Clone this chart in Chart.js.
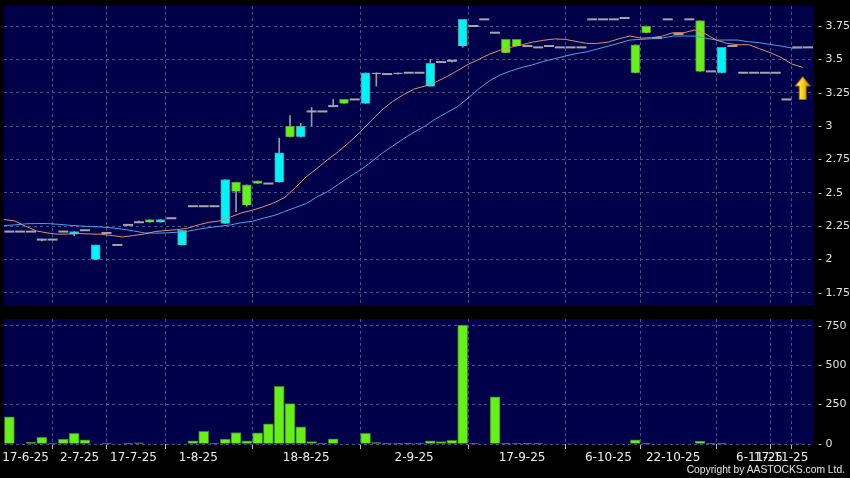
<!DOCTYPE html>
<html>
<head>
<meta charset="utf-8">
<script src="https://cdn.jsdelivr.net/npm/chart.js@4.4.1/dist/chart.umd.min.js"></script>
<style>
  html, body { margin: 0; padding: 0; background: #000; }
  #wrap { position: relative; width: 850px; height: 478px; background: #000; overflow: hidden; }
  #pricebox { position: absolute; left: 0; top: 0; width: 850px; height: 310px; }
  #volbox { position: absolute; left: 0; top: 310px; width: 850px; height: 168px; }
  #copy { position: absolute; right: 5px; top: 464px; font: 10.3px 'Liberation Sans', Arial, sans-serif; color: #e6e6e6; white-space: nowrap; }
</style>
</head>
<body>
<div id="wrap">
  <div id="pricebox"><canvas id="price" width="850" height="310"></canvas></div>
  <div id="volbox"><canvas id="vol" width="850" height="168"></canvas></div>
  <div id="copy">Copyright by AASTOCKS.com Ltd.</div>
</div>
<script>
// ---- data (one entry per bar, 75 bars) ----
const opens = [
  2.21, 2.21, 2.21, 2.15, 2.15, 2.21, 2.19, 2.22, 2.00, 2.20,
  2.11, 2.26, 2.28, 2.30, 2.28, 2.31, 2.11, 2.40, 2.40, 2.40,
  2.27, 2.58, 2.56, 2.59, 2.57, 2.58, 3.00, 2.92, 3.11, 3.11,
  3.15, 3.20, 3.20, 3.17, 3.40, 3.39, 3.39, 3.40, 3.40, 3.30,
  3.48, 3.49, 3.60, 3.75, 3.80, 3.70, 3.65, 3.65, 3.60, 3.59,
  3.60, 3.59, 3.59, 3.59, 3.80, 3.80, 3.80, 3.81, 3.61, 3.75,
  3.66, 3.80, 3.69, 3.80, 3.79, 3.41, 3.40, 3.60, 3.40, 3.40,
  3.40, 3.40, 3.20, 3.59, 3.59
];
const highs = [
  2.21, 2.21, 2.21, 2.15, 2.15, 2.21, 2.21, 2.22, 2.11, 2.20,
  2.11, 2.26, 2.29, 2.30, 2.30, 2.31, 2.22, 2.40, 2.40, 2.40,
  2.60, 2.58, 2.56, 2.59, 2.57, 2.91, 3.08, 3.02, 3.14, 3.11,
  3.20, 3.20, 3.20, 3.40, 3.40, 3.39, 3.40, 3.40, 3.40, 3.50,
  3.48, 3.49, 3.80, 3.75, 3.80, 3.70, 3.65, 3.65, 3.60, 3.59,
  3.60, 3.59, 3.59, 3.59, 3.80, 3.80, 3.80, 3.81, 3.61, 3.75,
  3.66, 3.80, 3.69, 3.80, 3.79, 3.41, 3.59, 3.60, 3.40, 3.40,
  3.40, 3.40, 3.20, 3.59, 3.59
];
const lows = [
  2.21, 2.21, 2.21, 2.14, 2.15, 2.21, 2.18, 2.22, 2.00, 2.20,
  2.11, 2.26, 2.28, 2.28, 2.28, 2.31, 2.11, 2.40, 2.40, 2.40,
  2.27, 2.36, 2.40, 2.57, 2.57, 2.58, 2.92, 2.92, 3.00, 3.11,
  3.15, 3.17, 3.20, 3.17, 3.30, 3.39, 3.39, 3.40, 3.40, 3.30,
  3.48, 3.48, 3.59, 3.75, 3.80, 3.70, 3.55, 3.60, 3.60, 3.59,
  3.60, 3.59, 3.59, 3.59, 3.80, 3.80, 3.80, 3.81, 3.40, 3.70,
  3.66, 3.80, 3.69, 3.80, 3.41, 3.41, 3.40, 3.60, 3.40, 3.40,
  3.40, 3.40, 3.20, 3.59, 3.59
];
const closes = [
  2.21, 2.21, 2.21, 2.15, 2.15, 2.21, 2.21, 2.22, 2.11, 2.20,
  2.11, 2.26, 2.28, 2.28, 2.30, 2.31, 2.22, 2.40, 2.40, 2.40,
  2.60, 2.51, 2.41, 2.57, 2.57, 2.80, 2.92, 3.00, 3.11, 3.11,
  3.15, 3.17, 3.20, 3.40, 3.39, 3.39, 3.40, 3.40, 3.40, 3.47,
  3.48, 3.49, 3.80, 3.75, 3.80, 3.70, 3.55, 3.60, 3.60, 3.59,
  3.60, 3.59, 3.59, 3.59, 3.80, 3.80, 3.80, 3.81, 3.40, 3.70,
  3.66, 3.80, 3.69, 3.80, 3.41, 3.41, 3.59, 3.60, 3.40, 3.40,
  3.40, 3.40, 3.20, 3.59, 3.59
];
const volumes = [
  173, 0, 10, 43, 2, 31, 67, 27, 0, 1,
  0, 1, 8, 0, 0, 0, 0, 20, 80, 2,
  31, 73, 20, 71, 128, 366, 256, 109, 16, 2,
  33, 0, 0, 67, 9, 1, 2, 2, 1, 20,
  16, 23, 755, 5, 0, 300, 5, 5, 2, 4,
  0, 0, 3, 0, 0, 0, 0, 0, 27, 2,
  0, 0, 0, 0, 18, 2, 2, 0, 0, 0,
  0, 3, 0, 3, 0
];
// moving averages, sampled at bar boundaries (first value at left edge of bar 0)
const maShort = [
  2.30, 2.29, 2.25, 2.215, 2.20, 2.19, 2.192, 2.195, 2.192, 2.19,
  2.18, 2.17, 2.18, 2.192, 2.21, 2.218, 2.224, 2.235, 2.26, 2.28,
  2.29, 2.32, 2.35, 2.37, 2.395, 2.425, 2.465, 2.54, 2.62, 2.683,
  2.75, 2.81, 2.88, 2.955, 3.04, 3.12, 3.185, 3.235, 3.278, 3.30,
  3.33, 3.37, 3.415, 3.463, 3.50, 3.54, 3.57, 3.592, 3.61, 3.63,
  3.643, 3.653, 3.65, 3.635, 3.62, 3.62, 3.63, 3.655, 3.675, 3.66,
  3.662, 3.675, 3.70, 3.70, 3.72, 3.69, 3.645, 3.62, 3.61, 3.61,
  3.58, 3.55, 3.515, 3.465, 3.44
];
const maLong = [
  2.255, 2.26, 2.268, 2.27, 2.27, 2.265, 2.258, 2.252, 2.248, 2.245,
  2.238, 2.228, 2.215, 2.20, 2.198, 2.20, 2.205, 2.212, 2.228, 2.24,
  2.25, 2.26, 2.277, 2.287, 2.31, 2.33, 2.36, 2.39, 2.42, 2.47,
  2.51, 2.565, 2.62, 2.67, 2.73, 2.795, 2.85, 2.905, 2.955, 3.00,
  3.055, 3.10, 3.145, 3.21, 3.28, 3.34, 3.385, 3.415, 3.44, 3.46,
  3.485, 3.505, 3.525, 3.543, 3.557, 3.578, 3.60, 3.622, 3.645, 3.65,
  3.655, 3.66, 3.675, 3.675, 3.675, 3.66, 3.645, 3.645, 3.645, 3.632,
  3.625, 3.612, 3.60, 3.585, 3.587
];
// date labels and the bar boundary they sit on
const tickLabels = ['17-6-25', '2-7-25', '17-7-25', '1-8-25', '18-8-25', '2-9-25',
  '17-9-25', '6-10-25', '22-10-25', '6-11-25', '17-11-25'];
const tickBars = [1.5, 6.5, 11.5, 17.5, 27.5, 37.5, 47.5, 55.5, 61.5, 69.5, 71.5];
// buy signal arrow
const signalBar = 73.5;
const signalPrice = 3.285;

const priceTicks = [1.75, 2, 2.25, 2.5, 2.75, 3, 3.25, 3.5, 3.75];
const volTicks = [0, 250, 500, 750];

// ---- style ----
const NAVY = '#00004a';
const GRID = '#4e4e8c';
const UP_FILL = '#00f4f4', UP_EDGE = '#4f98a4';
const DN_FILL = '#66f01a', DN_EDGE = '#5a8c3a';
const DOJI = '#a6a6a6';
const WICK = '#9a9a9a';
const AXIS_TEXT = '#e0e0e0';

Chart.defaults.font.family = "'DejaVu Sans', sans-serif";
Chart.defaults.animation = false;

const plotBg = {
  id: 'plotBg',
  beforeDraw(chart) {
    const { ctx, chartArea: a } = chart;
    ctx.save();
    ctx.fillStyle = NAVY;
    ctx.fillRect(a.left, a.top, a.right - a.left, a.bottom - a.top);
    ctx.restore();
  }
};

// axis labels must not push the plot area inwards
function noLabelPadding(s) {
  s.paddingTop = 0; s.paddingBottom = 0; s.paddingLeft = 0; s.paddingRight = 0;
}

function makeArrow() {
  const c = document.createElement('canvas');
  c.width = 16; c.height = 24;
  const g = c.getContext('2d');
  const grad = g.createLinearGradient(0, 0, 16, 0);
  grad.addColorStop(0, '#fff4a8');
  grad.addColorStop(0.45, '#ffd51c');
  grad.addColorStop(1, '#c08a00');
  g.beginPath();
  g.moveTo(8, 0.5); g.lineTo(15.5, 10); g.lineTo(11.5, 10); g.lineTo(11.5, 23.5);
  g.lineTo(4.5, 23.5); g.lineTo(4.5, 10); g.lineTo(0.5, 10); g.closePath();
  g.fillStyle = grad; g.fill();
  g.strokeStyle = '#9a6a00'; g.lineWidth = 1; g.stroke();
  return c;
}

// build the series
const bodies = [], bodyFill = [], bodyEdge = [], dojis = [], wicks = [];
for (let i = 0; i < closes.length; i++) {
  const o = opens[i], c = closes[i];
  if (c !== o) {
    bodies.push({ x: i, y: [Math.min(o, c), Math.max(o, c)] });
    bodyFill.push(c > o ? UP_FILL : DN_FILL);
    bodyEdge.push(c > o ? UP_EDGE : DN_EDGE);
  } else {
    dojis.push({ x: i, y: c });
  }
  if (highs[i] > lows[i]) wicks.push({ x: i, y: [lows[i], highs[i]] });
}
const shortLine = maShort.map((v, k) => ({ x: k - 0.5, y: v }));
const longLine = maLong.map((v, k) => ({ x: k - 0.5, y: v }));
const volBars = volumes.map((v, i) => ({ x: i, y: v }));

const xBase = {
  type: 'linear', min: -0.5, max: 74.55, offset: false,
  afterBuildTicks: s => { s.ticks = tickBars.map(v => ({ value: v })); }
};

function rightAxis(min, max, ticks) {
  return {
    position: 'right', min: min, max: max,
    afterBuildTicks: s => { s.ticks = ticks.map(v => ({ value: v })); },
    afterFit: s => { s.width = 36; noLabelPadding(s); },
    grid: { color: GRID, drawTicks: false },
    border: { display: false, dash: [3, 3] },
    ticks: {
      padding: 4, color: AXIS_TEXT, font: { size: 11 },
      callback: v => '- ' + (+v.toFixed(2))
    }
  };
}

// ---- price panel ----
new Chart(document.getElementById('price'), {
  type: 'bar',
  data: {
    datasets: [
      { type: 'line', data: shortLine, borderColor: '#e58d66', borderWidth: 1, pointRadius: 0, tension: 0 },
      { type: 'line', data: longLine, borderColor: '#45a6e6', borderWidth: 1, pointRadius: 0, tension: 0 },
      { type: 'scatter', data: [{ x: signalBar, y: signalPrice }], pointStyle: makeArrow(), pointRadius: 10 },
      { type: 'scatter', data: dojis, pointStyle: 'line', pointRadius: 5, borderColor: DOJI, borderWidth: 2, backgroundColor: DOJI },
      { data: bodies, backgroundColor: bodyFill, borderColor: bodyEdge, borderWidth: 1, barThickness: 9, grouped: false },
      { data: wicks, backgroundColor: WICK, borderWidth: 0, barThickness: 1, grouped: false }
    ]
  },
  options: {
    responsive: false,
    devicePixelRatio: 1,
    layout: { autoPadding: false, padding: { left: 4, top: 6, right: 0, bottom: 5 } },
    plugins: { legend: { display: false }, tooltip: { enabled: false } },
    scales: {
      x: Object.assign({}, xBase, {
        afterFit: s => { s.height = 0; noLabelPadding(s); },
        ticks: { display: false },
        grid: { color: GRID, drawTicks: false },
        border: { display: false, dash: [3, 3] }
      }),
      y: rightAxis(1.66, 3.9, priceTicks)
    }
  },
  plugins: [plotBg]
});

// ---- volume panel ----
new Chart(document.getElementById('vol'), {
  type: 'bar',
  data: {
    datasets: [
      { data: volBars, backgroundColor: DN_FILL, borderColor: '#3f7f22', borderWidth: 1, barThickness: 10, grouped: false }
    ]
  },
  options: {
    responsive: false,
    devicePixelRatio: 1,
    layout: { autoPadding: false, padding: { left: 4, top: 9, right: 0, bottom: 0 } },
    plugins: { legend: { display: false }, tooltip: { enabled: false } },
    scales: {
      x: Object.assign({}, xBase, {
        afterFit: s => { s.height = 34; noLabelPadding(s); },
        grid: { color: GRID, drawTicks: true, tickLength: 5, tickColor: '#b8b8b8' },
        border: { display: false, dash: [3, 3] },
        ticks: {
          autoSkip: false, maxRotation: 0, padding: 2, color: '#ececec', font: { size: 12 },
          callback: (v, i) => tickLabels[i]
        }
      }),
      y: rightAxis(0, 793, volTicks)
    }
  },
  plugins: [plotBg]
});
</script>
</body>
</html>
